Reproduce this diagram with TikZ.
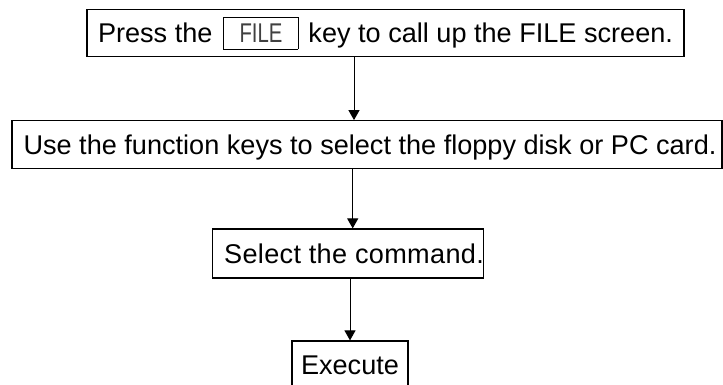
\documentclass[tikz,border=0pt]{standalone}
\usepackage{fontspec}
\setmainfont{Liberation Sans}
\newfontfamily\keyfont[FakeStretch=0.75]{Liberation Sans}
\newfontfamily\spacedfont[LetterSpace=1.2]{Liberation Sans}
\usetikzlibrary{arrows.meta}
\newcommand\kbox[1]{{\setlength\fboxsep{0pt}\setlength\fboxrule{0.8pt}\fbox{\makebox[73.4pt]{\rule[-6pt]{0pt}{31.4pt}\keyfont\color{black!75}#1}}}}
\tikzset{
  stepbox/.style={draw, line width=1.2pt, inner sep=0pt, text height=19.4pt, text depth=0pt, minimum height=47pt, anchor=center, font=\fontsize{27.1pt}{32pt}\selectfont},
  arr/.style={line width=1pt, -{Triangle[width=11pt,length=10pt]}}
}
\begin{document}
\begin{tikzpicture}[x=1pt,y=1pt]
\useasboundingbox (0,0) rectangle (723,-385);
\clip (0,0) rectangle (723,-385);
\node[stepbox, minimum width=597pt] (b1) at (385.5,-33.3) {Press the\hspace{11pt}\kbox{FILE}\hspace{10pt}key to call up the FILE screen.};
\node[stepbox, minimum width=710pt, minimum height=47.6pt] (b2) at (367,-144.5) {\hspace*{6pt}Use the function keys to select the floppy disk or PC card.};
\node[stepbox, minimum width=264pt, minimum height=49pt] (b3) at (348,-253.5) {\hspace*{12pt}\spacedfont Select the command.};
\node[stepbox, minimum width=116pt] (b4) at (350,-364.5) {Execute};
\coordinate (x1) at (354,0);
\coordinate (x2) at (352.7,0);
\coordinate (x3) at (350,0);
\draw[arr] (b1.south -| x1) -- (b2.north -| x1);
\draw[arr] (b2.south -| x2) -- (b3.north -| x2);
\draw[arr] (b3.south -| x3) -- (b4.north -| x3);
\end{tikzpicture}
\end{document}
